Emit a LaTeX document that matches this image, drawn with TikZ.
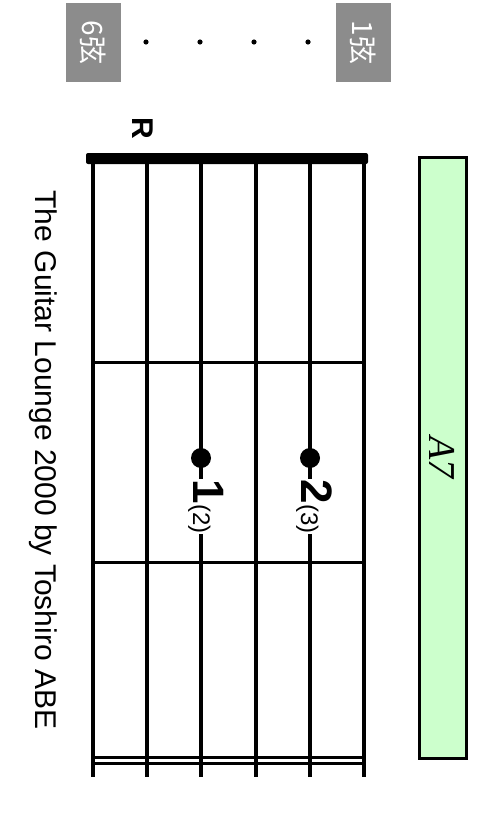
\documentclass[tikz,border=0pt]{standalone}
\usepackage{fontspec}
\setmainfont{Liberation Sans}
\newfontfamily\chordfont{Liberation Serif}
\newfontfamily\cjkfont{Noto Sans CJK JP}
\definecolor{chordgreen}{HTML}{CCFFCC}
\definecolor{taggray}{HTML}{8C8C8C}

\begin{document}
\begin{tikzpicture}[x=1pt, y=-1pt,
                    wire/.style={line width=3.3pt},
                    fret/.style={line width=3pt},
                    finger/.style={circle, fill=black, inner sep=0pt, minimum size=20pt},
                    fingerlbl/.style={rotate=-90, anchor=base west, fill=white, inner sep=0.5pt},
                    stringtag/.style={rotate=-90, fill=taggray, text=white, inner sep=0pt,
                                      minimum width=79pt, minimum height=55pt,
                                      font=\cjkfont\fontsize{28}{28}\selectfont}]
  \useasboundingbox (0,0) rectangle (490,840);

  \node[stringtag] (sixth) at (93,42.5) {6弦};
  \node[stringtag] (first) at (363.5,42.5) {1弦};
  \foreach \dx in {146,200,254,308}
    \fill (\dx,42) circle (2.6);

  \node[rotate=-90, anchor=base, inner sep=0pt, font=\bfseries\fontsize{30}{30}\selectfont]
    (root) at (132,128) {R};

  \foreach \sx in {93,147,201,256,310,364}
    \draw[wire] (\sx,158) -- (\sx,777);
  \foreach \fy in {362,562,757,763}
    \draw[fret] (93,\fy) -- (364,\fy);
  \fill[rounded corners=2pt] (86,153) rectangle (368,164);

  \node[finger] (fingerone) at (201,458) {};
  \node[finger] (fingertwo) at (310,458) {};
  \node[fingerlbl] (lblone) at (193,479)
    {{\bfseries\fontsize{44}{44}\selectfont 1}{\fontsize{24}{24}\selectfont (2)}};
  \node[fingerlbl] (lbltwo) at (301,479)
    {{\bfseries\fontsize{44}{44}\selectfont 2}{\fontsize{24}{24}\selectfont (3)}};

  \node[rotate=-90, draw, line width=3pt, fill=chordgreen, inner sep=0pt,
        minimum width=601pt, minimum height=47pt,
        font=\chordfont\itshape\fontsize{38}{38}\selectfont]
    (chord) at (442.5,457.5) {A7};

  \node[rotate=-90, anchor=base, inner sep=0pt, font=\fontsize{30}{30}\selectfont]
    (credit) at (35,460) {The Guitar Lounge 2000 by Toshiro ABE};
\end{tikzpicture}
\end{document}
